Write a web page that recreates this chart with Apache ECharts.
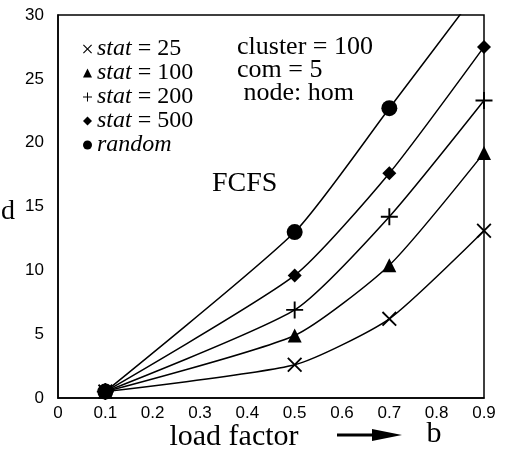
<!DOCTYPE html>
<html><head><meta charset="utf-8">
<script src="https://cdn.jsdelivr.net/npm/echarts@6/dist/echarts.min.js"></script>
<style>html,body{margin:0;padding:0;background:#fff}#c{width:515px;height:456px}</style>
</head><body><div id="c"></div>
<script>
// load factor b
var xs = [0.1, 0.5, 0.7, 0.9];
var stat25  = [0.5, 2.6, 6.2, 13.1];
var stat100 = [0.5, 4.9, 10.4, 19.2];
var stat200 = [0.5, 6.9, 14.2, 23.3];
var stat500 = [0.5, 9.6, 17.6, 27.5];
var random  = [0.5, 13.0, 22.7, 32.5];
var names = ['stat = 25', 'stat = 100', 'stat = 200', 'stat = 500', 'random'];
var xTicks = ['0','0.1','0.2','0.3','0.4','0.5','0.6','0.7','0.8','0.9'];
var yTicks = ['0','5','10','15','20','25','30'];

var crossPath = 'path://M0,1.4L1.4,0L8,6.6L14.6,0L16,1.4L9.4,8L16,14.6L14.6,16L8,9.4L1.4,16L0,14.6L6.6,8Z';
var plusPath = 'path://M7.1,0H8.9V7.1H16V8.9H8.9V16H7.1V8.9H0V7.1H7.1Z';
var symbols = [crossPath, 'triangle', plusPath, 'diamond', 'circle'];
var sizes = [15, 14, 17, 14, 16];
var seriesData = [stat25, stat100, stat200, stat500, random];

function pairs(v){ return xs.map(function(x,i){ return [x, v[i]]; }); }

var chart = echarts.init(document.getElementById('c'));
var serif = 'Liberation Serif';
var series = seriesData.map(function(v, k){
  return {
    name: names[k], type: 'line', data: pairs(v), smooth: 0.2,
    symbol: symbols[k], symbolSize: sizes[k], showSymbol: true,
    clip: true,
    lineStyle: {color: '#000', width: 1.5},
    itemStyle: {color: '#000', borderWidth: 0},
    emphasis: {disabled: true}, silent: true, animation: false
  };
});
var legendIcons = [crossPath, 'triangle', plusPath, 'diamond', 'circle'];
chart.setOption({
  animation: false,
  grid: {left: 58, right: 31, top: 15, bottom: 58, show: true, borderColor: '#000', borderWidth: 1.5},
  xAxis: {
    type: 'value', min: 0, max: 0.9, interval: 0.1,
    axisLine: {show: true, lineStyle: {color: '#000', width: 1.5}},
    axisTick: {show: false}, splitLine: {show: false},
    axisLabel: {color: '#000', fontFamily: 'Liberation Sans', fontSize: 17, margin: 7,
      formatter: function(v){ return xTicks[Math.round(v*10)]; }}
  },
  yAxis: {
    type: 'value', min: 0, max: 30, interval: 5,
    axisLine: {show: true, lineStyle: {color: '#000', width: 1.5}},
    axisTick: {show: false}, splitLine: {show: false},
    axisLabel: {color: '#000', fontFamily: 'Liberation Sans', fontSize: 17, margin: 14,
      formatter: function(v){ return yTicks[Math.round(v/5)]; }}
  },
  legend: {
    orient: 'vertical', left: 78, top: 32, itemGap: 0, itemWidth: 9, itemHeight: 9,
    selectedMode: false,
    data: names.map(function(n, k){ return {name: n, icon: legendIcons[k]}; }),
    formatter: function(n){
      if (n === 'random') return '{i|random}';
      return '{i|stat} = ' + n.split('= ')[1];
    },
    textStyle: {color: '#000', fontFamily: serif, fontSize: 24, lineHeight: 24,
      rich: {i: {fontStyle: 'italic', fontFamily: serif, fontSize: 24, lineHeight: 24}}}
  },
  graphic: [
    {type: 'text', left: 237, top: 34, style: {text: 'cluster = 100\ncom = 5\n node: hom', font: '26px "Liberation Serif"', lineHeight: 23, fill: '#000'}},
    {type: 'text', left: 212, top: 170, style: {text: 'FCFS', font: '28px "Liberation Serif"', fill: '#000'}},
    {type: 'text', x: 15, y: 212, style: {text: 'ed', font: '28px "Liberation Serif"', fill: '#000', align: 'right', verticalAlign: 'middle'}},
    {type: 'text', x: 234, y: 437, style: {text: 'load factor', font: '30px "Liberation Serif"', fill: '#000', align: 'center', verticalAlign: 'middle'}},
    {type: 'line', shape: {x1: 337, y1: 435, x2: 376, y2: 435}, style: {stroke: '#000', lineWidth: 3}},
    {type: 'polygon', shape: {points: [[372, 429], [402, 435], [372, 441]]}, style: {fill: '#000'}},
    {type: 'text', x: 434, y: 434, style: {text: 'b', font: '30px "Liberation Serif"', fill: '#000', align: 'center', verticalAlign: 'middle'}}
  ],
  series: series
});
</script></body></html>
